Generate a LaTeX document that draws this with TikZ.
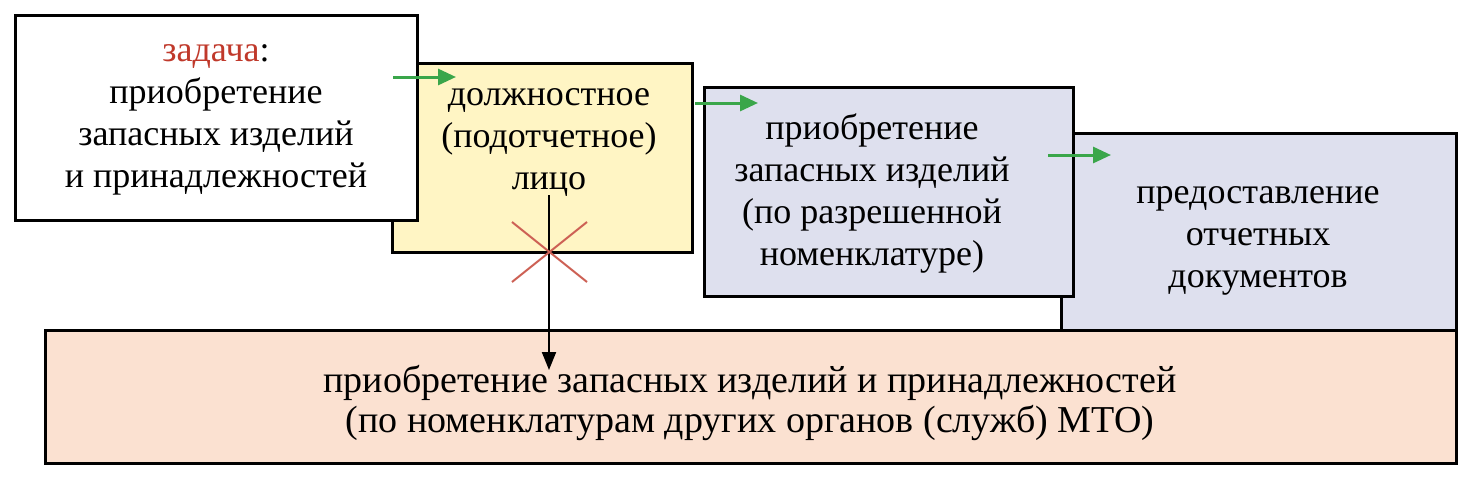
\documentclass[tikz,border=0pt]{standalone}
\usepackage{fontspec}
\setmainfont{Liberation Serif}
\usetikzlibrary{arrows.meta}
\definecolor{yel}{HTML}{FFF5C4}
\definecolor{lav}{HTML}{DEE0EE}
\definecolor{pch}{HTML}{FBE1D1}
\definecolor{rd}{HTML}{C0392B}
\definecolor{gr}{HTML}{3AA64A}
\tikzset{box/.style={draw=black,line width=3pt},
 txt/.style={align=center,font=\fontsize{36}{42}\selectfont},
 txtb/.style={align=center,font=\fontsize{38}{40}\selectfont},
 garr/.style={draw=gr,line width=3pt,-{Triangle[length=18pt,width=16pt]}}}
\begin{document}
\begin{tikzpicture}[x=1pt,y=-1pt]
\useasboundingbox (0,0) rectangle (1472,480);
\filldraw[box,fill=pch] (45,330) rectangle (1456,463);
\filldraw[box,fill=lav] (1061,133) rectangle (1456,330);
\filldraw[box,fill=lav] (704,87) rectangle (1073,296);
\filldraw[box,fill=yel] (392,63) rectangle (692,252);
\filldraw[box,fill=white] (15,15) rectangle (417,220);
\node[txt] (t1) at (216,120) {{\color{rd}задача}:\\приобретение\\запасных изделий\\и принадлежностей};
\node[txt] (t2) at (549,142) {должностное\\(подотчетное)\\лицо};
\node[txt] (t3) at (872,193) {приобретение\\запасных изделий\\(по разрешенной\\номенклатуре)};
\node[txt] (t4) at (1258,241) {предоставление\\отчетных\\документов};
\node[txtb] (t5) at (750,403) {приобретение запасных изделий и принадлежностей\\(по номенклатурам других органов (служб) МТО)};
\coordinate (a1) at (393,77); \coordinate (b1) at (456,77);
\coordinate (a2) at (695,103); \coordinate (b2) at (758,103);
\coordinate (a3) at (1048,155); \coordinate (b3) at (1111,155);
\draw[garr] (a1) -- (b1);
\draw[garr] (a2) -- (b2);
\draw[garr] (a3) -- (b3);
\coordinate (s) at (549,195); \coordinate (e) at (549,370);
\draw[line width=2pt,-{Triangle[length=18pt,width=14pt]}] (s) -- (e);
\coordinate (x1) at (512,222); \coordinate (x2) at (587,282);
\coordinate (x3) at (587,222); \coordinate (x4) at (512,282);
\draw[rd!80,line width=2pt] (x1) -- (x2) (x3) -- (x4);
\end{tikzpicture}
\end{document}
